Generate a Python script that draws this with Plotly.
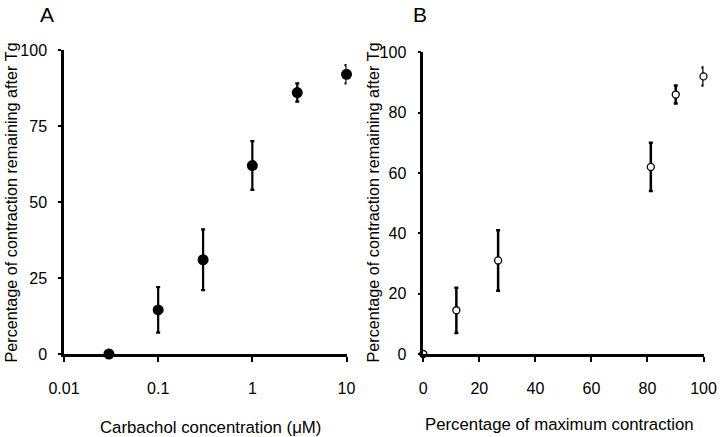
import plotly.graph_objects as go

# Data
carbachol_uM = [0.03, 0.1, 0.3, 1, 3, 10]
pct_remaining = [0, 14.5, 31, 62, 86, 92]
pct_remaining_err = [0, 7.5, 10, 8, 3, 3]
pct_max_contraction = [0, 11.8, 26.7, 81.2, 90.1, 100]

a_xticks = [0.01, 0.1, 1, 10]
a_xticktext = ["0.01", "0.1", "1", "10"]
a_yticks = [0, 25, 50, 75, 100]
b_xticks = [0, 20, 40, 60, 80, 100]
b_yticks = [0, 20, 40, 60, 80, 100]

FONT = "Liberation Sans, Arial, sans-serif"
W, H = 724, 437

fig = go.Figure()

fig.add_trace(go.Scatter(
    x=carbachol_uM, y=pct_remaining, mode="markers",
    marker=dict(size=11, color="black"),
    error_y=dict(type="data", array=pct_remaining_err, visible=True,
                 color="black", thickness=2.2, width=2),
    cliponaxis=False, xaxis="x", yaxis="y", showlegend=False,
))

fig.add_trace(go.Scatter(
    x=pct_max_contraction, y=pct_remaining, mode="markers",
    marker=dict(size=7, color="white", line=dict(color="black", width=1.3)),
    error_y=dict(type="data", array=pct_remaining_err, visible=True,
                 color="black", thickness=2.5, width=2),
    cliponaxis=False, xaxis="x2", yaxis="y2", showlegend=False,
))

def px_x(p):
    return p / W

def px_y(p):
    return 1 - p / H

axis_common = dict(showgrid=False, zeroline=False, showline=True, linecolor="black",
                   linewidth=2.5, ticks="outside", tickcolor="black", tickwidth=2,
                   automargin=False,
                   tickfont=dict(family=FONT, size=16, color="black"), fixedrange=True)

fig.update_layout(
    width=W, height=H,
    margin=dict(l=0, r=0, t=0, b=0),
    paper_bgcolor="white", plot_bgcolor="white",
    xaxis=dict(domain=[px_x(64), px_x(346.5)], type="log", range=[-2, 1],
               tickvals=a_xticks, ticktext=a_xticktext, anchor="y",
               ticklen=5, ticklabelstandoff=13, **axis_common),
    yaxis=dict(domain=[px_y(354), px_y(50)], range=[0, 100], tickvals=a_yticks,
               anchor="x", ticklen=3, ticklabelstandoff=8, **axis_common),
    xaxis2=dict(domain=[px_x(423.3), px_x(703.5)], range=[0, 100], tickvals=b_xticks,
                anchor="y2", ticklen=5, ticklabelstandoff=13, **axis_common),
    yaxis2=dict(domain=[px_y(354), px_y(52.3)], range=[0, 100], tickvals=b_yticks,
                anchor="x2", ticklen=3, ticklabelstandoff=8, **axis_common),
)

def ann(text, x, y, size, angle=0):
    fig.add_annotation(text=text, x=px_x(x), y=px_y(y), xref="paper", yref="paper",
                       xanchor="center", yanchor="middle", showarrow=False,
                       textangle=angle, font=dict(family=FONT, size=size, color="black"))

ann("A", 47, 14, 21)
ann("B", 420, 14, 21)
ann("Percentage of contraction remaining after Tg", 10, 202.5, 16.2, -90)
ann("Percentage of contraction remaining after Tg", 372, 202.5, 16.2, -90)
ann("Carbachol concentration (μM)", 210, 427, 16.8)
ann("Percentage of maximum contraction", 559.5, 424, 16.8)

fig.write_html("out.html", config={"displayModeBar": False},
               post_script="document.body.style.margin='0';")
